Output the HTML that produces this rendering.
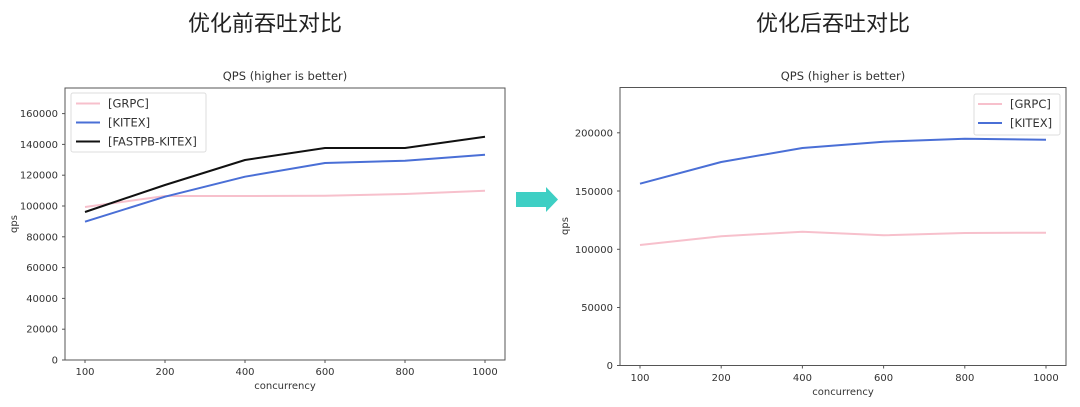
<!DOCTYPE html>
<html><head><meta charset="utf-8"><style>
body{margin:0;background:#fff;width:1080px;height:407px;overflow:hidden}
svg{display:block}
</style></head><body>
<svg width="1080" height="407" xmlns="http://www.w3.org/2000/svg" font-family="'DejaVu Sans','Liberation Sans',sans-serif">
<g font-family="'Liberation Sans','Noto Sans CJK SC',sans-serif" font-size="22" fill="#222" text-anchor="middle">
<text x="265" y="31">优化前吞吐对比</text>
<text x="833" y="31">优化后吞吐对比</text>
</g>
<!-- Left chart -->
<g font-size="10" fill="#333">
<text x="285" y="80" text-anchor="middle" font-size="11.5">QPS (higher is better)</text>
<rect x="65" y="88" width="440" height="272" fill="none" stroke="#555" stroke-width="1"/>
<g text-anchor="end">
<text x="58" y="363.5">0</text>
<text x="58" y="332.7">20000</text>
<text x="58" y="301.9">40000</text>
<text x="58" y="271.1">60000</text>
<text x="58" y="240.3">80000</text>
<text x="58" y="209.5">100000</text>
<text x="58" y="178.7">120000</text>
<text x="58" y="147.9">140000</text>
<text x="58" y="117.1">160000</text>
</g>
<g stroke="#555"><line x1="62" x2="65" y1="360" y2="360"/><line x1="62" x2="65" y1="329.2" y2="329.2"/><line x1="62" x2="65" y1="298.4" y2="298.4"/><line x1="62" x2="65" y1="267.6" y2="267.6"/><line x1="62" x2="65" y1="236.8" y2="236.8"/><line x1="62" x2="65" y1="206" y2="206"/><line x1="62" x2="65" y1="175.2" y2="175.2"/><line x1="62" x2="65" y1="144.4" y2="144.4"/><line x1="62" x2="65" y1="113.6" y2="113.6"/>
<line x1="85" x2="85" y1="360" y2="363"/><line x1="165" x2="165" y1="360" y2="363"/><line x1="245" x2="245" y1="360" y2="363"/><line x1="325" x2="325" y1="360" y2="363"/><line x1="405" x2="405" y1="360" y2="363"/><line x1="485" x2="485" y1="360" y2="363"/></g>
<g text-anchor="middle">
<text x="85" y="375">100</text><text x="165" y="375">200</text><text x="245" y="375">400</text><text x="325" y="375">600</text><text x="405" y="375">800</text><text x="485" y="375">1000</text>
<text x="285" y="389">concurrency</text>
</g>
<text transform="translate(17,224) rotate(-90)" text-anchor="middle">qps</text>
<g fill="none" stroke-width="2" stroke-linejoin="round">
<polyline stroke="#f7c0cc" points="85,207 165,196 245,196 325,195.7 405,194 485,190.7"/>
<polyline stroke="#4a6fd6" points="85,221.7 165,196.7 245,176.7 325,163 405,160.7 485,154.7"/>
<polyline stroke="#111" points="85,212 165,185 245,160 325,148 405,148 485,136.7"/>
</g>
<rect x="71" y="93" width="135" height="59" fill="#fff" stroke="#ddd" rx="2"/>
<g stroke-width="2"><line x1="76" x2="100" y1="103.5" y2="103.5" stroke="#f7c0cc"/><line x1="76" x2="100" y1="122.5" y2="122.5" stroke="#4a6fd6"/><line x1="76" x2="100" y1="141.5" y2="141.5" stroke="#111"/></g>
<g font-size="11.5"><text x="108" y="107.5">[GRPC]</text><text x="108" y="126.5">[KITEX]</text><text x="108" y="145.5">[FASTPB-KITEX]</text></g>
</g>
<!-- Arrow -->
<polygon points="516,192 546,192 546,187 558,199.5 546,212 546,207 516,207" fill="#3ecfc4"/>
<!-- Right chart -->
<g font-size="10" fill="#333">
<text x="843" y="80" text-anchor="middle" font-size="11.5">QPS (higher is better)</text>
<rect x="620" y="87.5" width="446" height="278" fill="none" stroke="#555" stroke-width="1"/>
<g text-anchor="end">
<text x="613" y="369">0</text>
<text x="613" y="311">50000</text>
<text x="613" y="253">100000</text>
<text x="613" y="195">150000</text>
<text x="613" y="136.5">200000</text>
</g>
<g stroke="#555"><line x1="617" x2="620" y1="365.5" y2="365.5"/><line x1="617" x2="620" y1="307.5" y2="307.5"/><line x1="617" x2="620" y1="249.3" y2="249.3"/><line x1="617" x2="620" y1="191" y2="191"/><line x1="617" x2="620" y1="132.8" y2="132.8"/>
<line x1="640" x2="640" y1="365.5" y2="368.5"/><line x1="721.2" x2="721.2" y1="365.5" y2="368.5"/><line x1="802.4" x2="802.4" y1="365.5" y2="368.5"/><line x1="883.6" x2="883.6" y1="365.5" y2="368.5"/><line x1="964.8" x2="964.8" y1="365.5" y2="368.5"/><line x1="1046" x2="1046" y1="365.5" y2="368.5"/></g>
<g text-anchor="middle">
<text x="640" y="381">100</text><text x="721.2" y="381">200</text><text x="802.4" y="381">400</text><text x="883.6" y="381">600</text><text x="964.8" y="381">800</text><text x="1046" y="381">1000</text>
<text x="843" y="395">concurrency</text>
</g>
<text transform="translate(568,226) rotate(-90)" text-anchor="middle">qps</text>
<g fill="none" stroke-width="2" stroke-linejoin="round">
<polyline stroke="#f7c0cc" points="640,245 721.2,236.3 802.4,231.7 883.6,235.3 964.8,233 1046,232.7"/>
<polyline stroke="#4a6fd6" points="640,183.7 721.2,162 802.4,148 883.6,141.7 964.8,138.7 1046,139.7"/>
</g>
<rect x="974" y="94" width="86" height="41" fill="#fff" stroke="#ddd" rx="2"/>
<g stroke-width="2"><line x1="978" x2="1002" y1="104" y2="104" stroke="#f7c0cc"/><line x1="978" x2="1002" y1="123" y2="123" stroke="#4a6fd6"/></g>
<g font-size="11.5"><text x="1010" y="108">[GRPC]</text><text x="1010" y="127">[KITEX]</text></g>
</g>
</svg>
</body></html>
